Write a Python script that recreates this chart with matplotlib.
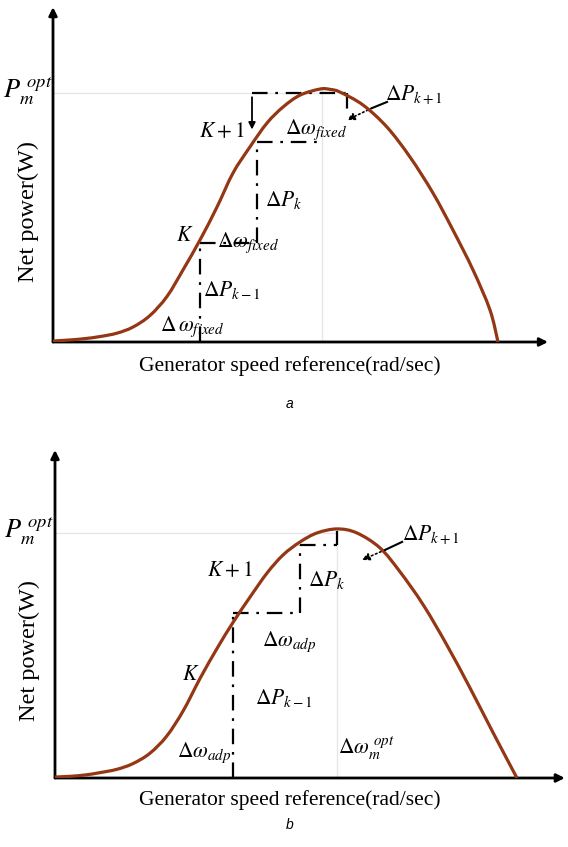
import matplotlib
matplotlib.use("Agg")
import matplotlib.pyplot as plt
from matplotlib.path import Path
from matplotlib.patches import PathPatch

plt.rcParams['font.family'] = 'serif'
plt.rcParams['font.serif'] = ['Liberation Serif', 'DejaVu Serif']
plt.rcParams['mathtext.fontset'] = 'stix'

# curve samples (axis units 0..100)
speed_a = [0, 3.4, 6.4, 9.4, 12.8, 16.0, 19.4, 22.8, 26.0, 29.4, 32.8, 36.0, 39.4, 42.8,
           46.0, 49.4, 53.4, 55.4, 57.4, 62.0, 66.8, 71.4, 76.0, 80.0, 84.0, 87.4, 89.0]
power_a = [0.3, 0.6, 1.0, 1.6, 2.6, 4.4, 7.8, 13.4, 21.2, 30.0, 39.7, 49.7, 57.4, 64.4,
           69.1, 72.6, 74.4, 74.3, 73.5, 69.7, 63.2, 54.4, 43.8, 32.9, 21.2, 9.4, 0.0]

speed_b = [0, 2.9, 5.8, 8.7, 12.0, 15.1, 18.4, 21.7, 24.9, 28.2, 31.5, 34.6, 37.9, 41.2,
           44.3, 47.6, 50.9, 54.8, 58.6, 63.1, 67.0, 71.5, 76.1, 80.6, 85.0, 89.7]
power_b = [0.3, 0.5, 0.9, 1.6, 2.6, 4.3, 7.4, 12.6, 20.2, 30.0, 39.0, 46.8, 54.4, 61.6,
           67.0, 70.9, 73.6, 74.8, 73.6, 69.1, 61.9, 52.0, 39.9, 27.0, 13.8, 0.0]

# perturb & observe steps (fixed step, panel a)
steps_a = [
    ([29.4, 29.4], [0, 29.1]),
    ([29.4, 40.8], [29.1, 29.1]),
    ([40.8, 40.8], [29.1, 58.8]),
    ([40.8, 53.4], [58.8, 58.8]),
    ([39.8, 58.8], [73.2, 73.2]),
    ([58.8, 58.8], [73.2, 67.0]),
]
# adaptive step, panel b
steps_b = [
    ([34.5, 34.5], [0, 49.5]),
    ([34.5, 47.6], [49.5, 49.5]),
    ([47.6, 47.6], [49.5, 70.0]),
    ([47.6, 54.8], [70.0, 70.0]),
    ([54.8, 54.8], [70.0, 74.2]),
]

opt_a = (53.8, 73.2)
opt_b = (54.8, 73.6)

labels_a = [
    (33.8, 61.8, r'$K+1$', 'center'),
    (66.4, 72.6, r'$\Delta P_{k+1}$', 'left'),
    (46.4, 62.4, r'$\Delta\omega_{fixed}$', 'left'),
    (42.4, 41.8, r'$\Delta P_k$', 'left'),
    (26.4, 30.9, r'$K$', 'center'),
    (32.8, 29.1, r'$\Delta\omega_{fixed}$', 'left'),
    (30.0, 15.3, r'$\Delta P_{k-1}$', 'left'),
    (21.4, 4.4, r'$\Delta\,\omega_{fixed}$', 'left'),
]
labels_b = [
    (34.0, 61.9, r'$K+1$', 'center'),
    (67.4, 73.0, r'$\Delta P_{k+1}$', 'left'),
    (49.1, 59.5, r'$\Delta P_k$', 'left'),
    (40.2, 40.8, r'$\Delta\omega_{adp}$', 'left'),
    (26.4, 30.9, r'$K$', 'center'),
    (38.8, 24.0, r'$\Delta P_{k-1}$', 'left'),
    (23.7, 7.5, r'$\Delta\omega_{adp}$', 'left'),
    (55.0, 9.0, r'$\Delta\omega_m^{\ opt}$', 'left'),
]

W, H = 568, 847
fig = plt.figure(figsize=(W / 100, H / 100), dpi=100)


def make_axes(left, right, top, bottom):
    ax = fig.add_axes([left / W, 1 - bottom / H, (right - left) / W, (bottom - top) / H])
    ax.set_xlim(0, 100)
    ax.set_ylim(0, 100)
    ax.axis('off')
    return ax


def smooth_path(xs, ys):
    # cubic bezier through the read points (catmull-rom handles)
    pts = list(zip(xs, ys))
    verts = [pts[0]]
    codes = [Path.MOVETO]
    n = len(pts)
    for i in range(n - 1):
        p0 = pts[max(i - 1, 0)]
        p1 = pts[i]
        p2 = pts[i + 1]
        p3 = pts[min(i + 2, n - 1)]
        c1 = (p1[0] + (p2[0] - p0[0]) / 6, p1[1] + (p2[1] - p0[1]) / 6)
        c2 = (p2[0] - (p3[0] - p1[0]) / 6, p2[1] - (p3[1] - p1[1]) / 6)
        verts += [c1, c2, p2]
        codes += [Path.CURVE4] * 3
    return Path(verts, codes)


def draw_panel(ax, speed, power, steps, opt, labels, pointer, down_arrow=None):
    gray = '#e6e6e6'
    ax.plot([0, opt[0]], [opt[1], opt[1]], color=gray, lw=1)
    ax.plot([opt[0], opt[0]], [0, opt[1] + 1], color=gray, lw=1)
    # axes with arrows
    ax.annotate('', xy=(99, 0), xytext=(0, 0), annotation_clip=False,
                arrowprops=dict(arrowstyle='-|>', lw=2, color='black', mutation_scale=12,
                                shrinkA=0, shrinkB=0))
    ax.annotate('', xy=(0, 98.5), xytext=(0, 0), annotation_clip=False,
                arrowprops=dict(arrowstyle='-|>', lw=2, color='black', mutation_scale=12,
                                shrinkA=0, shrinkB=0))
    for xs, ys in steps:
        ax.plot(xs, ys, color='black', lw=1.6, linestyle=(0, (7, 3.5, 1.2, 3.5)))
    ax.add_patch(PathPatch(smooth_path(speed, power), facecolor='none',
                           edgecolor='#933714', lw=2.3, zorder=5))
    # pointer to next step
    (x0, y0), (x1, y1), (x2, y2) = pointer
    ax.plot([x0, x1], [y0, y1], color='black', lw=1.5, zorder=6)
    ax.annotate('', xy=(x2, y2), xytext=(x1, y1),
                arrowprops=dict(arrowstyle='-|>', lw=1.2, color='black', linestyle=':',
                                mutation_scale=11, shrinkA=0, shrinkB=0))
    if down_arrow is not None:
        ax.annotate('', xy=down_arrow[1], xytext=down_arrow[0],
                    arrowprops=dict(arrowstyle='-|>', lw=1.3, color='black',
                                    mutation_scale=10, shrinkA=0, shrinkB=0))
    for x, y, s, ha in labels:
        ax.text(x, y, s, fontsize=15.5, ha=ha, va='center', zorder=7)
    ax.text(-5.0, opt[1] + 0.5, r'$P_m^{\ opt}$', fontsize=19, ha='center', va='center',
            clip_on=False)
    ax.text(-5.0, 38.3, 'Net power(W)', fontsize=17.5, rotation=90, ha='center',
            va='center', clip_on=False)


ax_a = make_axes(53, 553, 2, 342)
draw_panel(ax_a, speed_a, power_a, steps_a, opt_a, labels_a,
           [(66.8, 70.6), (63.8, 68.8), (58.8, 65.3)],
           down_arrow=[(39.8, 72.0), (39.8, 62.5)])

ax_b = make_axes(55, 570, 445, 778)
draw_panel(ax_b, speed_b, power_b, steps_b, opt_b, labels_b,
           [(67.4, 70.9), (64.1, 68.5), (59.6, 65.5)])

for y_lab, y_tag, tag in [(366, 404, 'a'), (800, 825, 'b')]:
    fig.text(290 / W, 1 - y_lab / H, 'Generator speed reference(rad/sec)', fontsize=15.5,
             ha='center', va='center')
    fig.text(290 / W, 1 - y_tag / H, tag, fontsize=10, ha='center', va='center',
             family='Liberation Sans', style='italic')

fig.savefig('out.png', dpi=100)
